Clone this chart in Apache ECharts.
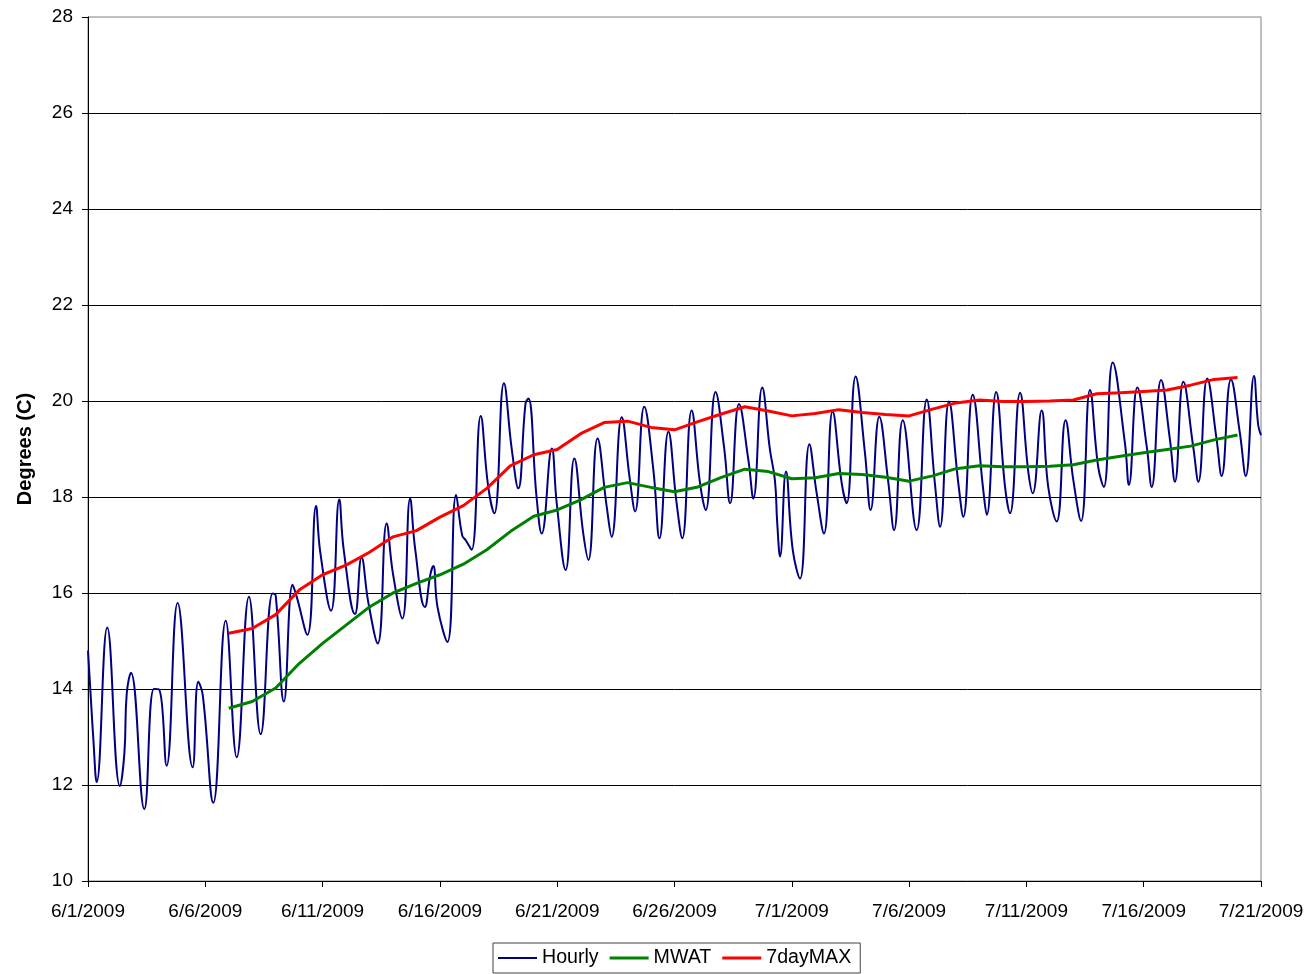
<!DOCTYPE html>
<html>
<head>
<meta charset="utf-8">
<script src="https://cdn.jsdelivr.net/npm/echarts@6/dist/echarts.min.js"></script>
<style>
html,body{margin:0;padding:0;background:#fff;}
#chart{width:1310px;height:974px;}
</style>
</head>
<body>
<div id="chart"></div>
<script>
// X tick labels (every 5 days from 6/1/2009)
const tickLabels = ['6/1/2009','6/6/2009','6/11/2009','6/16/2009','6/21/2009','6/26/2009','7/1/2009','7/6/2009','7/11/2009','7/16/2009','7/21/2009'];

// Hourly series: time in days since 6/1/2009 00:00, temperature in C
const hourlyDay = [
  0, 0.23, 0.37, 0.82, 1.36, 1.55, 1.65, 1.83, 2.4, 2.81, 3.03, 3.35, 3.82, 4.46, 4.7, 4.89, 5.34, 5.87, 6.34, 6.86, 7.36, 7.87, 8.0,
  8.35, 8.72, 8.88, 9.35, 9.72, 9.9, 10.36, 10.71, 10.9, 11.38, 11.66, 11.95, 12.35, 12.73, 13.0, 13.4, 13.73, 13.95, 14.36,
  14.6, 14.72, 14.9, 15.32, 15.69, 15.95, 16.1, 16.35, 16.74, 17.06, 17.32, 17.73, 18.06, 18.34, 18.65, 18.77, 19.12, 19.34,
  19.77, 19.98, 20.36, 20.73, 21.11, 21.33, 21.72, 22.11, 22.32, 22.75, 23.1, 23.32, 23.71, 24.1, 24.36, 24.74, 25.09, 25.33,
  25.73, 26.09, 26.33, 26.75, 27.11, 27.37, 27.75, 28.15, 28.36, 28.74, 29.07, 29.28, 29.38, 29.5, 29.75, 30.04, 30.35,
  30.75, 31.06, 31.37, 31.74, 32.13, 32.34, 32.72, 33.12, 33.36, 33.73, 34.11, 34.36, 34.73, 35.32, 35.75, 36.1, 36.32,
  36.7, 37.1, 37.31, 37.71, 38.16, 38.31, 38.71, 39.09, 39.3, 39.73, 40.08, 40.27, 40.65, 40.93, 41.29, 41.67, 42.0, 42.33,
  42.71, 43.06, 43.3, 43.68, 44.2, 44.37, 44.73, 45.13, 45.34, 45.74, 46.12, 46.33, 46.69, 47.11, 47.33, 47.71, 48.11, 48.32,
  48.72, 49.1, 49.35, 49.7, 49.88, 50.0
];
const hourlyTemp = [
  14.8, 12.94, 12.06, 15.28, 11.98, 12.66, 13.9, 14.34, 11.5, 14.0, 13.99, 12.4, 15.79, 12.37, 14.15, 13.88, 11.63, 15.42, 12.58, 15.92, 13.06, 15.99, 15.95,
  13.74, 16.17, 15.95, 15.13, 17.81, 16.85, 15.63, 17.95, 16.9, 15.56, 16.74, 15.8, 14.95, 17.45, 16.4, 15.47, 17.97, 16.9, 15.71,
  16.4, 16.56, 15.7, 14.98, 18.04, 17.2, 17.1, 16.9, 19.69, 18.21, 17.66, 20.37, 19.01, 18.18, 19.95, 20.05, 18.0, 17.24,
  19.01, 17.87, 16.48, 18.8, 17.24, 16.69, 19.22, 17.8, 17.17, 19.66, 18.35, 17.7, 19.88, 18.56, 17.14, 19.36, 17.87, 17.14,
  19.8, 18.28, 17.73, 20.19, 19.05, 17.87, 19.94, 18.77, 17.97, 20.28, 18.98, 18.35, 17.45, 16.76, 18.53, 16.9, 16.3,
  19.1, 18.08, 17.24, 19.78, 18.28, 17.87, 20.51, 18.91, 17.73, 19.67, 18.32, 17.31, 19.6, 17.31, 20.03, 18.28, 17.38,
  19.99, 18.28, 17.59, 20.13, 18.15, 17.63, 20.19, 18.21, 17.66, 20.17, 18.53, 18.08, 19.8, 18.21, 17.49, 19.6, 18.35, 17.5,
  20.23, 18.63, 18.21, 20.8, 19.12, 18.25, 20.28, 19.05, 18.21, 20.44, 19.19, 18.32, 20.4, 19.05, 18.32, 20.47, 19.19, 18.44,
  20.45, 19.33, 18.44, 20.52, 19.5, 19.29
];

// Daily series start on 6/7/2009 (day 6) and run to 7/20/2009
const dailyStartDay = 6;
const mwat = [
  13.6, 13.74, 14.02, 14.53, 14.95, 15.33, 15.71, 16.0, 16.2, 16.38, 16.6, 16.9, 17.28, 17.6, 17.73, 17.94, 18.2, 18.3,
  18.2, 18.11, 18.21, 18.41, 18.58, 18.53, 18.38, 18.4, 18.49, 18.47, 18.41, 18.33, 18.44, 18.59, 18.65, 18.63, 18.63,
  18.64, 18.67, 18.77, 18.85, 18.92, 18.99, 19.06, 19.19, 19.29
];
const sevenDayMax = [
  15.16, 15.26, 15.55, 16.06, 16.38, 16.58, 16.85, 17.17, 17.3, 17.58, 17.82, 18.18, 18.65, 18.88, 18.99, 19.32, 19.55, 19.58,
  19.45, 19.4, 19.57, 19.73, 19.88, 19.79, 19.69, 19.74, 19.82, 19.76, 19.72, 19.69, 19.83, 19.96, 20.02, 19.99, 19.99,
  20.0, 20.02, 20.15, 20.17, 20.2, 20.23, 20.33, 20.45, 20.49
];

const hourlyData = hourlyDay.map((d, i) => [d, hourlyTemp[i]]);
const mwatData = mwat.map((v, i) => [dailyStartDay + i, v]);
const maxData = sevenDayMax.map((v, i) => [dailyStartDay + i, v]);

const FONT = "'Liberation Sans', Arial, sans-serif";
const chart = echarts.init(document.getElementById('chart'), null, {renderer: 'canvas'});
chart.setOption({
  animation: false,
  backgroundColor: '#ffffff',
  grid: {left: 88, right: 49, top: 17, bottom: 93, show: true, borderColor: '#808080', borderWidth: 1, backgroundColor: 'transparent'},
  xAxis: {
    type: 'value', min: 0, max: 50, interval: 5,
    axisLine: {show: true, onZero: false, lineStyle: {color: '#000', width: 1}},
    axisTick: {show: true, inside: false, length: 6, lineStyle: {color: '#000'}},
    axisLabel: {margin: 21, color: '#000', fontFamily: FONT, fontSize: 19,
      formatter: v => tickLabels[Math.round(v / 5)] || ''},
    splitLine: {show: false}
  },
  yAxis: {
    type: 'value', min: 10, max: 28, interval: 2,
    name: 'Degrees (C)', nameLocation: 'middle', nameGap: 53, nameRotate: 90,
    nameTextStyle: {fontFamily: FONT, fontSize: 20, fontWeight: 'bold', color: '#000'},
    axisLine: {show: true, lineStyle: {color: '#000', width: 1}},
    axisTick: {show: true, inside: false, length: 6, lineStyle: {color: '#000'}},
    axisLabel: {margin: 15, color: '#000', fontFamily: FONT, fontSize: 19},
    splitLine: {show: true, showMinLine: false, showMaxLine: false, lineStyle: {color: '#000', width: 1}}
  },
  legend: {
    left: 493, top: 943, padding: [5, 9, 5, 5],
    itemWidth: 39, itemHeight: 14, itemGap: 11,
    symbolKeepAspect: true,
    borderColor: '#404040', borderWidth: 1,
    textStyle: {fontFamily: FONT, fontSize: 19.6, color: '#000'},
    data: [
      {name: 'Hourly', icon: 'path://M0,0H39V2H0Z'},
      {name: 'MWAT', icon: 'path://M0,0H13V1H0Z'},
      {name: '7dayMAX', icon: 'path://M0,0H13V1H0Z'}
    ]
  },
  series: [
    {name: 'Hourly', type: 'line', data: hourlyData, smooth: 0.45, symbol: 'none', showSymbol: false,
      lineStyle: {color: '#000080', width: 2}, itemStyle: {color: '#000080'}},
    {name: 'MWAT', type: 'line', data: mwatData, smooth: false, symbol: 'none', showSymbol: false,
      lineStyle: {color: '#008000', width: 3}, itemStyle: {color: '#008000'}},
    {name: '7dayMAX', type: 'line', data: maxData, smooth: false, symbol: 'none', showSymbol: false,
      lineStyle: {color: '#ff0000', width: 3}, itemStyle: {color: '#ff0000'}}
  ]
});
</script>
</body>
</html>
